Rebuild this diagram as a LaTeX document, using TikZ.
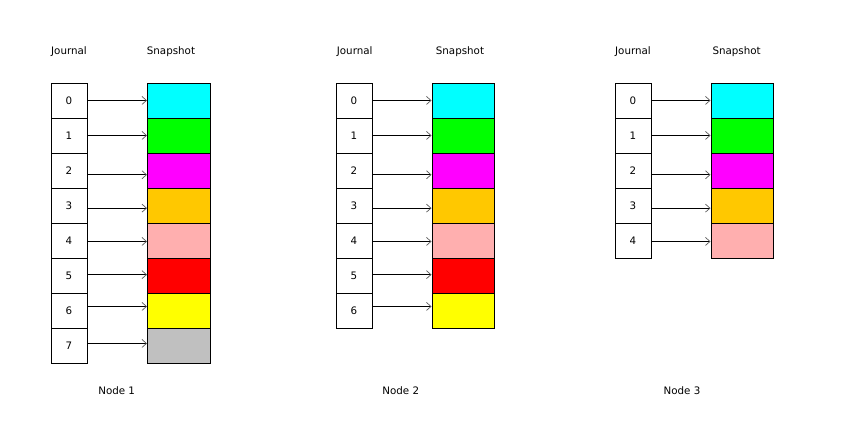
\documentclass[tikz,border=0pt]{standalone}
\usepackage{fontspec}
\setmainfont{DejaVu Sans}
\usetikzlibrary{arrows.meta}
\definecolor{jcyan}{RGB}{0,255,255}
\definecolor{jgreen}{RGB}{0,255,0}
\definecolor{jmagenta}{RGB}{255,0,255}
\definecolor{jorange}{RGB}{255,200,0}
\definecolor{jpink}{RGB}{255,175,175}
\definecolor{jred}{RGB}{255,0,0}
\definecolor{jyellow}{RGB}{255,255,0}
\definecolor{jgray}{RGB}{192,192,192}
\tikzset{
  jbox/.style={draw=black,line width=0.8pt,rectangle,inner sep=0pt,minimum width=36pt,minimum height=34.9pt,anchor=north west,font=\fontsize{10.3}{12}\selectfont},
  sbox/.style={draw=black,line width=0.8pt,rectangle,inner sep=0pt,minimum width=62.5pt,minimum height=34.9pt,anchor=north west},
  hdr/.style={anchor=base west,inner sep=0pt,font=\fontsize{10.3}{12}\selectfont},
  nodecap/.style={anchor=base,inner sep=0pt,font=\fontsize{10.3}{12}\selectfont},
  arr/.style={line width=0.7pt,-{Straight Barb[length=4.5pt,width=8pt,line width=0.7pt,color=black!65]}}
}
\begin{document}
\begin{tikzpicture}[x=1pt,y=-1pt]
\useasboundingbox (0,0) rectangle (846,447);
% offsets of the arrows from box centres
\def\offs{{-0.7,-0.6,3.8,2.3,0.7,-1.0,-4.1,-2.0}}
\def\cols{{"jcyan","jgreen","jmagenta","jorange","jpink","jred","jyellow","jgray"}}
\foreach \n/\jx/\sx/\cnt/\jl/\sl/\nx in {1/50.5/147/7/51/146.7/116.7, 2/335.5/431.5/6/336.7/435.7/400.8, 3/614.5/710.5/4/615/712.3/682}{
  \node[hdr] (jh\n) at (\jl,54) {Journal};
  \node[hdr] (sh\n) at (\sl,54) {Snapshot};
  \node[nodecap] (caption\n) at (\nx,394.3) {Node \n};
  \foreach \i in {0,...,\cnt}{
    \pgfmathsetmacro{\yy}{83.3+34.9*\i}
    \pgfmathsetmacro{\dy}{\offs[\i]}
    \pgfmathsetmacro{\cc}{\cols[\i]}
    \node[jbox] (j\n-\i) at (\jx,\yy) {\i};
    \node[sbox,fill=\cc] (s\n-\i) at (\sx,\yy) {};
    \draw[arr] ([yshift=-\dy pt]j\n-\i.east) -- ([yshift=-\dy pt]s\n-\i.west);
  }
}
\end{tikzpicture}
\end{document}
